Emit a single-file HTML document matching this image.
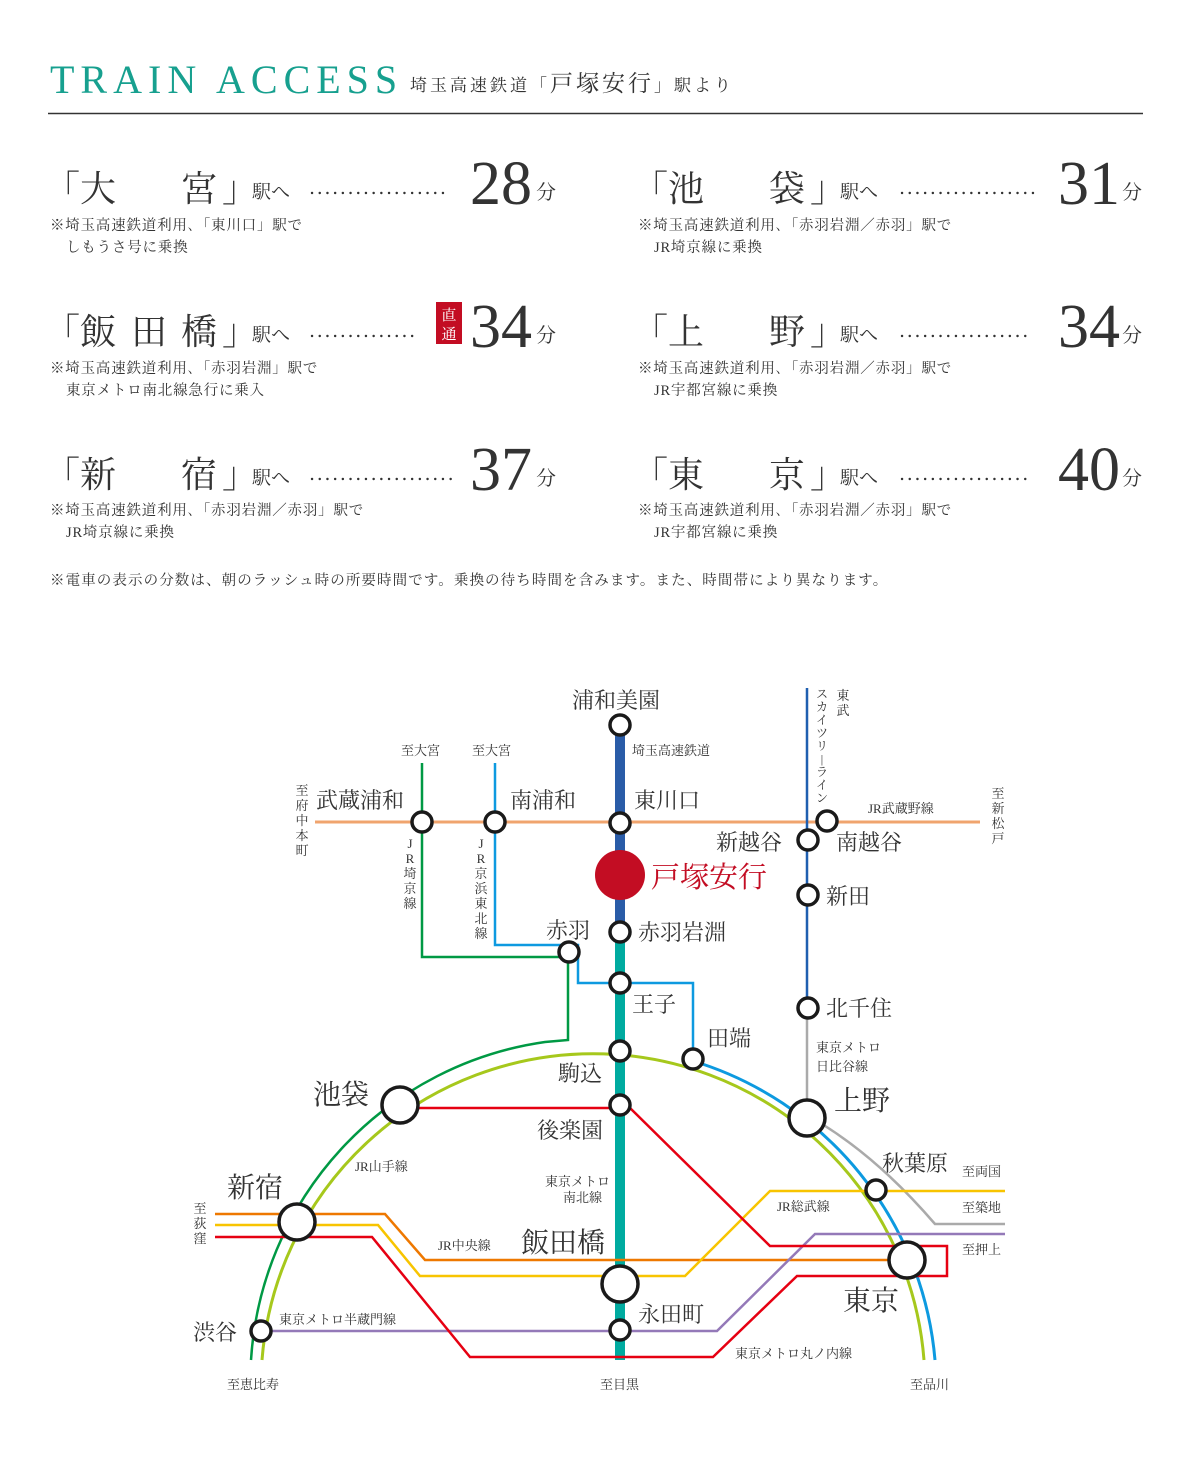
<!DOCTYPE html>
<html><head><meta charset="utf-8"><style>
html,body{margin:0;padding:0;background:#fff;}
svg{display:block;}
.s{font-family:"Liberation Serif","Noto Serif CJK JP","Noto Serif CJK SC",serif;fill:#333;}
</style></head><body>
<svg width="1200" height="1460" viewBox="0 0 1200 1460" xmlns="http://www.w3.org/2000/svg">
<g class="s">
<text x="50" y="93" font-size="40" letter-spacing="6" style="fill:#17a08f">TRAIN ACCESS</text>
<text x="410" y="91" font-size="17" letter-spacing="3">埼玉高速鉄道「<tspan font-size="23">戸塚安行</tspan>」駅より</text>
</g>
<line x1="48" y1="113.5" x2="1143" y2="113.5" stroke="#333" stroke-width="1.5"/>

<g class="s" font-size="36">
<text x="44" y="201">「</text><text x="80" y="201">大</text><text x="181" y="201">宮</text><text x="222" y="201">」</text>
<text x="44" y="344">「</text><text x="80" y="344">飯</text><text x="131" y="344">田</text><text x="181" y="344">橋</text><text x="222" y="344">」</text>
<text x="44" y="487">「</text><text x="80" y="487">新</text><text x="181" y="487">宿</text><text x="222" y="487">」</text>
<text x="632" y="201">「</text><text x="668" y="201">池</text><text x="769" y="201">袋</text><text x="810" y="201">」</text>
<text x="632" y="344">「</text><text x="668" y="344">上</text><text x="769" y="344">野</text><text x="810" y="344">」</text>
<text x="632" y="487">「</text><text x="668" y="487">東</text><text x="769" y="487">京</text><text x="810" y="487">」</text>
</g>
<g class="s" font-size="19">
<text x="252" y="198">駅へ</text><text x="252" y="341">駅へ</text><text x="252" y="484">駅へ</text>
<text x="840" y="198">駅へ</text><text x="840" y="341">駅へ</text><text x="840" y="484">駅へ</text>
</g>
<g stroke="#333" stroke-width="2.4" stroke-dasharray="0.1 7.6" stroke-linecap="round">
<line x1="312" y1="193" x2="450" y2="193"/>
<line x1="312" y1="336" x2="415" y2="336"/>
<line x1="312" y1="479" x2="458" y2="479"/>
<line x1="902" y1="193" x2="1040" y2="193"/>
<line x1="902" y1="336" x2="1032" y2="336"/>
<line x1="902" y1="479" x2="1032" y2="479"/>
</g>
<g font-family="Liberation Serif, serif" fill="#333" font-size="62" text-anchor="end">
<text x="532" y="204">28</text><text x="532" y="347">34</text><text x="532" y="490">37</text>
<text x="1120" y="204">31</text><text x="1120" y="347">34</text><text x="1120" y="490">40</text>
</g>
<g class="s" font-size="20">
<text x="536" y="199">分</text><text x="536" y="342">分</text><text x="536" y="485">分</text>
<text x="1122" y="199">分</text><text x="1122" y="342">分</text><text x="1122" y="485">分</text>
</g>
<rect x="436" y="302" width="26" height="42" fill="#c30d23"/>
<text x="449" y="320" font-size="15" text-anchor="middle" class="s" style="fill:#fff">直</text>
<text x="449" y="339" font-size="15" text-anchor="middle" class="s" style="fill:#fff">通</text>

<g class="s" font-size="14.5" letter-spacing="0.8">
<text x="50" y="230">※埼玉高速鉄道利用､「東川口」駅で</text>
<text x="66" y="252">しもうさ号に乗換</text>
<text x="50" y="373">※埼玉高速鉄道利用､「赤羽岩淵」駅で</text>
<text x="66" y="395">東京メトロ南北線急行に乗入</text>
<text x="50" y="515">※埼玉高速鉄道利用､「赤羽岩淵／赤羽」駅で</text>
<text x="66" y="537">JR埼京線に乗換</text>
<text x="638" y="230">※埼玉高速鉄道利用､「赤羽岩淵／赤羽」駅で</text>
<text x="654" y="252">JR埼京線に乗換</text>
<text x="638" y="373">※埼玉高速鉄道利用､「赤羽岩淵／赤羽」駅で</text>
<text x="654" y="395">JR宇都宮線に乗換</text>
<text x="638" y="515">※埼玉高速鉄道利用､「赤羽岩淵／赤羽」駅で</text>
<text x="654" y="537">JR宇都宮線に乗換</text>
<text x="50" y="585" letter-spacing="1.1">※電車の表示の分数は、朝のラッシュ時の所要時間です。乗換の待ち時間を含みます。また、時間帯により異なります。</text>
</g>

<g fill="none" stroke-linejoin="miter">
<line x1="315" y1="822" x2="980" y2="822" stroke="#f0a46e" stroke-width="3"/>
<polyline points="422,763 422,957 568,957" stroke="#009944" stroke-width="2.5"/>
<path d="M568,952 L568,1040 L545,1042 A343,343 0 0 0 251,1360" stroke="#009944" stroke-width="2.5"/>
<polyline points="495,763 495,945 578,945 578,983 693,983 693,1060" stroke="#0d9ae0" stroke-width="2.5"/>
<path d="M693,1061 A343,343 0 0 1 935,1360" stroke="#0d9ae0" stroke-width="3"/>
<path d="M807,1008 L807,1118 L822,1124 Q880,1160 935,1224 L1005,1224" stroke="#aaa" stroke-width="2.5"/>
<path d="M262,1360 A332,332 0 0 1 924,1360" stroke="#a6c81c" stroke-width="3"/>
<line x1="807" y1="688" x2="807" y2="1008" stroke="#1f5fb0" stroke-width="2.5"/>
<line x1="620" y1="725" x2="620" y2="930" stroke="#2a5ca8" stroke-width="10"/>
<line x1="620" y1="930" x2="620" y2="1360" stroke="#00aba0" stroke-width="10"/>
<polyline points="215,1214 385,1214 425,1260 907,1260" stroke="#ee7800" stroke-width="2.5"/>
<polyline points="215,1225 378,1225 420,1276 685,1276 770,1191 1005,1191" stroke="#f8c400" stroke-width="2.5"/>
<polyline points="261,1331 717,1331 815,1234 1005,1234" stroke="#9479b8" stroke-width="2.5"/>
<polyline points="215,1237 372,1237 470,1357 713,1357 797,1276 947,1276 947,1246 770,1246 630,1108 400,1108" stroke="#e60012" stroke-width="2.5"/>
</g>
<circle cx="620" cy="875" r="25" fill="#c30d23"/>
<g fill="#fff" stroke="#1a1a1a" stroke-width="3.5">
<circle cx="620" cy="725" r="10"/><circle cx="620" cy="823" r="10"/><circle cx="620" cy="932" r="10"/>
<circle cx="620" cy="983" r="10"/><circle cx="620" cy="1051" r="10"/><circle cx="620" cy="1105" r="10"/>
<circle cx="620" cy="1330" r="10"/><circle cx="422" cy="822" r="10"/><circle cx="495" cy="822" r="10"/>
<circle cx="827" cy="821" r="10"/><circle cx="808" cy="840" r="10"/><circle cx="808" cy="895" r="10"/>
<circle cx="808" cy="1008" r="10"/><circle cx="569" cy="952" r="10"/><circle cx="693" cy="1059" r="10"/>
<circle cx="876" cy="1190" r="10"/><circle cx="261" cy="1331" r="10"/>
<circle cx="400" cy="1105" r="18"/><circle cx="297" cy="1222" r="18"/><circle cx="807" cy="1118" r="18"/>
<circle cx="620" cy="1284" r="18"/><circle cx="907" cy="1260" r="18"/>
</g>

<g class="s" font-size="22">
<text x="572" y="708">浦和美園</text>
<text x="316" y="808">武蔵浦和</text>
<text x="510" y="808">南浦和</text>
<text x="634" y="808">東川口</text>
<text x="716" y="850">新越谷</text>
<text x="836" y="850">南越谷</text>
<text x="826" y="904">新田</text>
<text x="638" y="940">赤羽岩淵</text>
<text x="546" y="938">赤羽</text>
<text x="632" y="1012">王子</text>
<text x="826" y="1016">北千住</text>
<text x="707" y="1046">田端</text>
<text x="558" y="1081">駒込</text>
<text x="537" y="1138">後楽園</text>
<text x="638" y="1322">永田町</text>
<text x="193" y="1340">渋谷</text>
<text x="882" y="1171">秋葉原</text>
</g>
<g class="s" font-size="28">
<text x="313" y="1104">池袋</text>
<text x="227" y="1197">新宿</text>
<text x="834" y="1110">上野</text>
<text x="521" y="1252">飯田橋</text>
<text x="843" y="1310">東京</text>
</g>
<text x="651" y="887" font-size="29" class="s" style="fill:#c30d23">戸塚安行</text>
<g class="s" font-size="13">
<text x="632" y="755">埼玉高速鉄道</text>
<text x="401" y="755">至大宮</text>
<text x="472" y="755">至大宮</text>
<text x="868" y="813">JR武蔵野線</text>
<text x="355" y="1171">JR山手線</text>
<text x="545" y="1186">東京メトロ</text>
<text x="563" y="1202">南北線</text>
<text x="438" y="1250">JR中央線</text>
<text x="279" y="1324">東京メトロ半蔵門線</text>
<text x="777" y="1211">JR総武線</text>
<text x="735" y="1358">東京メトロ丸ノ内線</text>
<text x="816" y="1052">東京メトロ</text>
<text x="816" y="1071">日比谷線</text>
<text x="962" y="1176">至両国</text>
<text x="962" y="1212">至築地</text>
<text x="962" y="1254">至押上</text>
<text x="227" y="1389">至恵比寿</text>
<text x="600" y="1389">至目黒</text>
<text x="910" y="1389">至品川</text>
</g>
<g class="s" font-size="13" text-anchor="middle">
<text x="302" y="795">至</text><text x="302" y="810">府</text><text x="302" y="825">中</text><text x="302" y="840">本</text><text x="302" y="855">町</text>
<text x="998" y="798">至</text><text x="998" y="813">新</text><text x="998" y="828">松</text><text x="998" y="843">戸</text>
<text x="200" y="1213">至</text><text x="200" y="1228">荻</text><text x="200" y="1243">窪</text>
<text x="410" y="848">J</text><text x="410" y="863">R</text><text x="410" y="878">埼</text><text x="410" y="893">京</text><text x="410" y="908">線</text>
<text x="481" y="848">J</text><text x="481" y="863">R</text><text x="481" y="878">京</text><text x="481" y="893">浜</text><text x="481" y="908">東</text><text x="481" y="923">北</text><text x="481" y="938">線</text>
<text x="843" y="700">東</text><text x="843" y="715">武</text>
</g>
<g class="s" font-size="12" text-anchor="middle">
<text x="822" y="698">ス</text><text x="822" y="711">カ</text><text x="822" y="724">イ</text><text x="822" y="737">ツ</text><text x="822" y="750">リ</text><text x="822" y="763">|</text><text x="822" y="776">ラ</text><text x="822" y="789">イ</text><text x="822" y="802">ン</text>
</g>
</svg>
</body></html>
